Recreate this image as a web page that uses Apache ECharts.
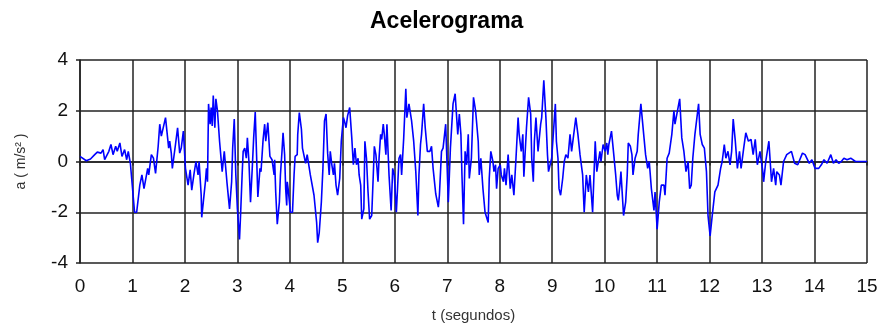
<!DOCTYPE html>
<html><head><meta charset="utf-8">
<script src="https://cdn.jsdelivr.net/npm/echarts@6/dist/echarts.min.js"></script>
<style>html,body{margin:0;padding:0;background:#fff}#c{width:884px;height:328px}</style>
</head><body><div id="c"></div>
<script>
var title = "Acelerograma";
var xName = "t (segundos)";
var yName = "a ( m/s² )";
var xTicks = [0,1,2,3,4,5,6,7,8,9,10,11,12,13,14,15];
var yTicks = [-4,-2,0,2,4];
var times = [0.00,0.12,0.20,0.28,0.33,0.40,0.44,0.47,0.55,0.59,0.63,0.68,0.71,0.76,0.80,0.85,0.89,0.92,0.96,1.04,1.08,1.14,1.18,1.22,1.29,1.31,1.36,1.40,1.44,1.49,1.52,1.55,1.63,
1.69,1.71,1.74,1.76,1.82,1.86,1.90,1.93,1.97,2.01,2.06,2.10,2.13,2.17,2.21,2.25,2.27,2.31,2.32,2.35,2.39,2.41,2.43,2.45,2.48,2.50,2.52,2.54,2.57,2.59,2.62,2.66,2.71,2.75,2.80,2.85,2.89,2.91,2.94,2.97,3.00,3.04,3.06,3.09,3.11,3.14,3.17,3.19,3.22,3.25,3.28,3.31,3.34,
3.39,3.43,3.45,3.49,3.52,3.54,3.58,3.62,3.66,3.70,3.71,3.73,3.76,3.80,3.82,3.85,3.87,3.90,3.92,3.94,3.95,3.97,4.01,4.05,4.08,4.10,4.14,4.15,4.18,4.22,4.24,4.27,4.30,4.33,4.39,4.46,4.51,4.53,4.56,4.60,4.63,4.66,4.69,4.72,4.75,4.77,4.80,4.83,4.85,4.88,4.91,4.95,4.98,
5.02,5.04,5.07,5.10,5.14,5.18,5.21,5.24,5.27,5.30,5.32,5.35,5.37,5.41,5.43,5.46,5.49,5.52,5.56,5.59,5.61,5.64,5.68,5.70,5.73,5.75,5.78,5.80,5.83,5.85,5.89,5.93,5.96,5.99,6.03,6.08,6.11,6.13,6.17,6.21,6.23,6.27,6.32,6.36,6.40,6.44,6.46,6.49,6.51,6.55,6.58,6.62,6.67,6.70,
6.73,6.78,6.83,6.85,6.89,6.92,6.97,7.02,7.06,7.11,7.15,7.20,7.23,7.26,7.28,7.31,7.34,7.37,7.40,7.42,7.46,7.50,7.54,7.59,7.61,7.64,7.68,7.72,7.75,7.78,7.80,7.83,7.87,7.89,7.92,7.94,7.97,8.01,8.03,8.07,8.09,8.12,8.16,8.20,8.23,8.27,8.31,
8.35,8.37,8.41,8.44,8.46,8.51,8.55,8.59,8.61,8.64,8.66,8.69,8.73,8.78,8.80,8.84,8.88,8.91,8.93,8.96,8.99,9.06,9.08,9.11,9.13,9.16,9.20,9.23,9.26,9.30,9.34,9.37,9.45,9.49,9.53,9.58,9.61,9.65,9.69,9.72,9.77,9.82,9.85,9.91,9.93,9.97,10.01,
10.04,10.06,10.08,10.13,10.18,10.21,10.24,10.26,10.29,10.31,10.36,10.40,10.43,10.45,10.49,10.52,10.54,10.58,10.62,10.64,10.69,10.75,10.78,10.82,10.85,10.89,10.94,10.96,11.00,11.04,11.08,11.13,11.15,11.19,11.23,11.25,11.28,11.32,11.34,11.43,11.47,11.51,11.55,11.59,11.62,11.65,11.68,11.72,
11.79,11.82,11.86,11.90,11.94,11.97,12.01,12.05,12.10,12.16,12.21,12.24,12.28,12.31,12.35,12.39,12.42,12.45,12.49,12.53,12.57,12.60,12.65,12.69,12.74,12.79,12.83,12.87,12.91,12.96,13.01,13.03,13.07,13.13,13.18,13.22,13.26,13.28,13.33,13.36,
13.41,13.47,13.56,13.62,13.68,13.77,13.82,13.90,13.95,14.01,14.08,14.13,14.18,14.24,14.31,14.36,14.41,14.46,14.51,14.56,14.62,14.69,14.78,15.00];
var accel = [0.2,0.03,0.1,0.27,0.37,0.33,0.47,0.07,0.4,0.67,0.27,0.6,0.4,0.73,0.2,0.47,0.07,0.4,-0.07,-2.0,-2.0,-0.93,-0.53,-1.07,-0.27,-0.53,0.27,0.13,-0.47,0.6,1.47,1.0,1.73,
0.53,0.8,0.33,-0.27,0.67,1.33,0.33,0.53,1.2,-0.27,-0.93,-0.33,-1.13,-0.53,0,-0.53,0,-1.33,-2.2,-1.6,-0.8,-0.27,-0.8,2.27,1.47,2.13,1.4,2.6,1.33,2.47,2.0,0.8,-0.4,0.4,-0.8,-1.87,-0.8,0.53,1.67,-0.53,-1.87,-3.07,-2.13,-0.53,0.4,0.53,0.13,0.93,0,-1.6,-0.4,0.93,1.95,
-1.4,-0.27,-0.4,0.87,1.47,0.8,1.53,0.2,0.07,-0.53,0.07,-1.2,-2.47,-1.6,-0.53,0.4,1.13,0.27,-1.07,-1.73,-0.8,-1.13,-2.0,-2.0,-0.53,0.2,0.27,1.07,1.93,1.27,0.53,0.6,-0.07,0.27,-0.53,-1.33,-2.4,-3.2,-2.8,-1.6,-0.27,1.6,1.87,0.33,-0.53,0.4,-0.13,-0.53,-0.07,-0.93,-1.33,-0.67,0.8,
1.73,1.6,1.33,1.8,2.13,0.93,-0.13,0.53,-0.13,0.13,-0.53,-0.93,-2.27,-1.87,0.8,0.13,-1.2,-2.27,-2.13,-0.53,0.6,0.27,-0.8,0.13,1.07,0.87,1.47,1.07,0.27,1.47,-0.53,-1.93,-0.27,-0.53,-2.0,0.13,0.27,-0.53,0.93,2.87,1.73,2.27,1.6,0.8,-0.4,-2.13,-0.53,0.67,1.07,2.27,1.33,0.4,0.4,0.6,
-0.27,-1.27,-1.8,-1.33,0.4,0.53,1.47,-1.6,0.53,2.27,2.67,1.07,1.87,1.07,-0.53,-2.47,0.4,-0.13,1.07,-0.67,0.13,2.53,2.0,0.8,-0.53,0.13,-1.07,-2.0,-2.0,-2.4,-0.67,0.4,0,-0.4,-0.13,-1.07,-0.27,-0.13,-0.53,-0.8,-0.27,-0.93,0.27,-1.07,-0.53,-1.33,0.13,
1.73,1.07,0.4,1.07,-0.6,1.33,2.53,1.87,0.13,-0.8,0.8,1.73,0.4,1.47,1.73,3.2,1.73,0.27,-0.4,-0.13,0.13,2.27,0.8,0.13,-1.07,-1.33,-0.67,0,0.27,0.13,1.07,0.4,1.73,1.07,0.27,-0.53,-2.0,-0.53,-1.2,-0.53,-2.0,0.8,-0.4,0.4,0,0.67,0.4,
0.73,0.27,0.67,1.2,0.13,-0.53,-1.33,-1.53,-0.93,-0.4,-2.13,-1.6,-0.53,0.73,0.6,0.27,-0.53,0.13,0.4,1.07,2.27,0.93,0.27,-0.27,0,-1.07,-1.93,-1.2,-2.67,-1.6,-0.93,-0.93,-1.33,0.13,0.33,0.27,1.07,2.0,1.47,2.47,0.93,0.4,-0.4,0,-1.07,-0.93,0.13,1.07,
2.27,1.07,0.67,0.53,-0.4,-2.13,-2.93,-2.13,-1.2,-0.93,-0.27,0,0.67,0.13,0.4,-0.13,0.4,1.67,0.8,-0.27,0.4,-0.27,0.53,1.13,0.8,0.87,0.27,0.87,-0.13,0.4,-0.33,-0.8,0,0.8,-0.8,-0.27,-0.93,-0.4,-0.53,-0.93,
0,0.27,0.4,-0.07,-0.13,0.33,0.27,-0.07,0.07,-0.27,-0.27,-0.13,0.07,-0.07,0.27,-0.07,0.07,-0.07,0,0.13,0.07,0.13,0,0];

var data = times.map(function(t,i){return [t, accel[i]];});
var chart = echarts.init(document.getElementById('c'), null, {renderer:'canvas'});
var axisTxt = {color:'#111', fontFamily:'Liberation Sans', fontSize:19};
chart.setOption({
  animation:false,
  backgroundColor:'#fff',
  title:{text:title, left:365, top:5, textStyle:{fontFamily:'Liberation Sans', fontWeight:'bold', fontSize:23, color:'#000'}},
  grid:{left:80, right:17, top:60, bottom:65, containLabel:false},
  xAxis:{type:'value', min:0, max:15, interval:1, name:xName, nameLocation:'middle', nameGap:45,
    nameTextStyle:{color:'#333', fontFamily:'Liberation Sans', fontSize:15},
    axisLine:{show:true, lineStyle:{color:'#222', width:1.5}},
    axisTick:{show:true, length:4, lineStyle:{color:'#222', width:1.5}},
    axisLabel:Object.assign({margin:14, formatter:function(v){return xTicks.indexOf(v)>=0? String(v):'';}}, axisTxt),
    splitLine:{show:true, lineStyle:{color:'#222', width:1.5}}},
  yAxis:{type:'value', min:-4, max:4, interval:2, name:yName, nameLocation:'middle', nameGap:52, nameRotate:90,
    nameTextStyle:{color:'#333', fontFamily:'Liberation Sans', fontSize:14},
    axisLine:{show:true, onZero:false, lineStyle:{color:'#222', width:1.5}},
    axisTick:{show:true, length:4, lineStyle:{color:'#222', width:1.5}},
    axisLabel:Object.assign({margin:12, formatter:function(v){return yTicks.indexOf(v)>=0? String(v):'';}}, axisTxt),
    splitLine:{show:true, lineStyle:{color:'#222', width:1.5}}},
  series:[{type:'line', data:data, showSymbol:false, symbol:'none', lineStyle:{color:'#0000ff', width:1.6}, itemStyle:{color:'#0000ff'}}]
});
</script></body></html>
